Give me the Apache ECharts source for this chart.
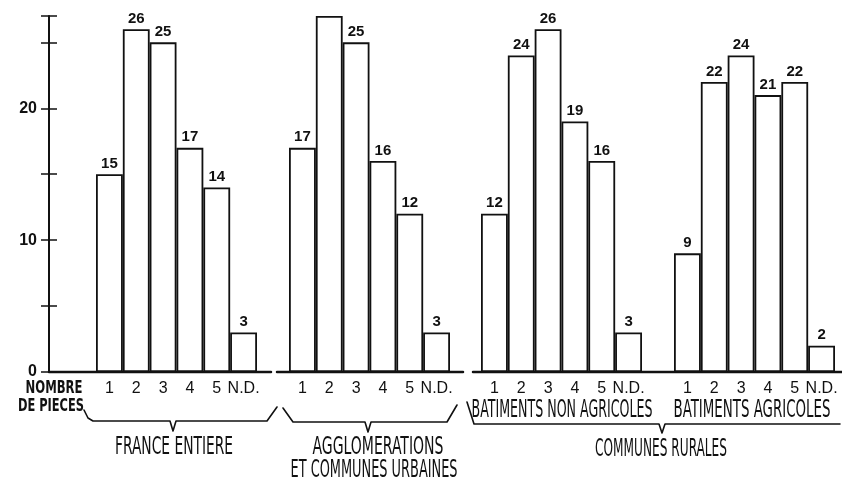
<!DOCTYPE html>
<html>
<head>
<meta charset="utf-8">
<script src="https://cdn.jsdelivr.net/npm/echarts@6/dist/echarts.min.js"></script>
<style>
  html, body { margin: 0; padding: 0; background: #fff; }
  #chart { width: 842px; height: 481px; }
</style>
</head>
<body>
<div id="chart"></div>
<script>
// Nombre de pièces des logements
const categories = ['1', '2', '3', '4', '5', 'N.D.'];
const franceEntiere = [15, 26, 25, 17, 14, 3];
const agglomerations = [17, 27, 25, 16, 12, 3];
const ruralesNonAgricoles = [12, 24, 26, 19, 16, 3];
const ruralesAgricoles = [9, 22, 24, 21, 22, 2];
// bars whose value is not written above them
const unlabelled = { agglomerations: [1] };
const yMax = 27;
const yInterval = 5;

const INK = '#111';
const TOP = 16, BOTTOM = 109, H = 481;
const BASE_Y = H - BOTTOM;
const GROUP_W = 161;
const groupLefts = [96, 289, 481, 674];
const AXIS_X = 49;
const FONT = 'Liberation Sans, Arial, sans-serif';
const LETTERING = '"Liberation Sans Narrow", "DejaVu Sans Condensed", "Liberation Sans", sans-serif';

const groups = [
  { name: 'franceEntiere', values: franceEntiere },
  { name: 'agglomerations', values: agglomerations },
  { name: 'ruralesNonAgricoles', values: ruralesNonAgricoles },
  { name: 'ruralesAgricoles', values: ruralesAgricoles }
];

const grid = groupLefts.map(l => ({ left: l, width: GROUP_W, top: TOP, bottom: BOTTOM }));

const xAxis = groups.map((g, i) => ({
  type: 'category', gridIndex: i, data: categories,
  axisLine: { show: false }, axisTick: { show: false },
  axisLabel: { interval: 0, color: INK, fontSize: 16, fontFamily: FONT, margin: 9 }
}));

const yAxis = groups.map((g, i) => ({
  type: 'value', gridIndex: i, min: 0, max: yMax, interval: yInterval,
  show: i === 0, position: 'left', offset: i === 0 ? groupLefts[0] - AXIS_X : 0,
  splitLine: { show: false },
  axisLine: { show: true, lineStyle: { color: INK, width: 2 } },
  axisTick: { show: true, length: 8, lineStyle: { color: INK, width: 1.5 } },
  axisLabel: {
    color: INK, fontSize: 16, fontWeight: 'bold', fontFamily: FONT,
    margin: 12, formatter: v => (v % 10 === 0 ? String(v) : '')
  }
}));
// inner half of the crossing ticks
yAxis.push({
  type: 'value', gridIndex: 0, min: 0, max: yMax, interval: yInterval,
  position: 'left', offset: groupLefts[0] - AXIS_X,
  splitLine: { show: false }, axisLine: { show: false }, axisLabel: { show: false },
  axisTick: { show: true, inside: true, length: 8, lineStyle: { color: INK, width: 1.5 } }
});

const series = groups.map((g, i) => ({
  type: 'bar', xAxisIndex: i, yAxisIndex: i,
  barCategoryGap: '0%',
  data: g.values.map((v, k) => ({
    value: v,
    label: { show: !(unlabelled[g.name] || []).includes(k) }
  })),
  itemStyle: { color: '#fff', borderColor: INK, borderWidth: 1.8 },
  label: {
    show: true, position: 'top', distance: 3, color: INK, fontSize: 15, fontWeight: 'bold',
    fontFamily: FONT
  },
  silent: true, animation: false
}));

// decorations: baselines, braces, group titles
const measureCtx = document.createElement('canvas').getContext('2d');
const line = (pts, w) => ({
  type: 'polyline', shape: { points: pts },
  style: { stroke: INK, lineWidth: w, fill: null, lineJoin: 'round', lineCap: 'round' }, silent: true
});
// condensed hand lettering: text squeezed horizontally to span a given width
const title = (text, x, y, size, span, weight) => {
  const font = (weight || 'normal') + ' ' + size + 'px ' + LETTERING;
  measureCtx.font = font;
  const sx = span / measureCtx.measureText(text).width;
  return {
    type: 'text', x: x, y: y, scaleX: sx, silent: true,
    style: { text: text, fill: INK, textAlign: 'center', textVerticalAlign: 'middle', font: font }
  };
};

const graphic = [
  line([[AXIS_X, BASE_Y], [271, BASE_Y]], 2.5),
  line([[277, BASE_Y], [463, BASE_Y]], 2.5),
  line([[473, BASE_Y], [842, BASE_Y]], 2.5),
  line([[84, 410], [88, 418], [93, 421], [170, 421], [173, 431], [176, 421], [267, 421], [277, 407]], 1.6),
  line([[283, 408], [293, 422], [365, 422], [368, 432], [371, 422], [447, 422], [457, 405]], 1.6),
  line([[467, 402], [474, 424], [659, 424], [662, 433], [665, 424], [840, 424]], 1.6),
  title('NOMBRE', 54, 389, 17, 57, 'bold'),
  title('DE PIECES', 51, 407, 17, 66, 'bold'),
  title('FRANCE ENTIERE', 174, 448, 24, 118),
  title('AGGLOMERATIONS', 378, 448, 24, 131),
  title('ET COMMUNES URBAINES', 374, 471, 24, 167),
  title('BATIMENTS NON AGRICOLES', 562, 410, 25, 181),
  title('BATIMENTS AGRICOLES', 752, 410, 25, 157),
  title('COMMUNES RURALES', 661, 450, 24, 132)
];

const chart = echarts.init(document.getElementById('chart'), null, { renderer: 'canvas' });
chart.setOption({
  backgroundColor: '#fff',
  animation: false,
  grid: grid, xAxis: xAxis, yAxis: yAxis, series: series, graphic: graphic
});
</script>
</body>
</html>
